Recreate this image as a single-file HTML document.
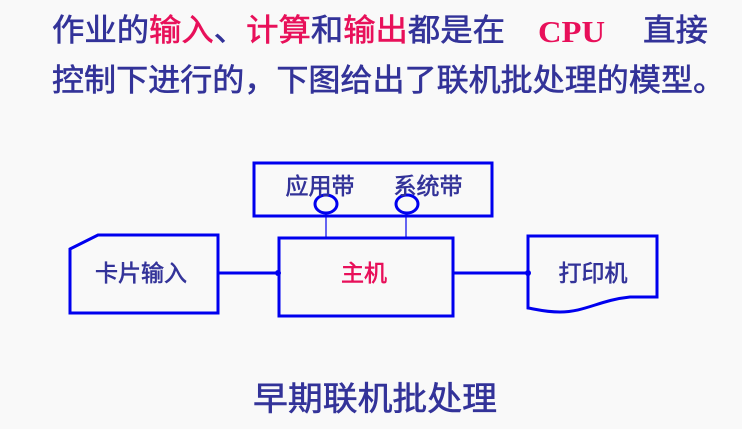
<!DOCTYPE html>
<html><head><meta charset="utf-8"><style>
html,body{margin:0;padding:0;background:#f9f9f9;}
svg{display:block;}
.t{font-family:"Liberation Sans","Noto Sans CJK SC",sans-serif;fill:#333399;stroke:#333399;stroke-width:0.6;}
.r{fill:#e8105a;stroke:#e8105a;}
</style></head><body>
<svg width="742" height="429" viewBox="0 0 742 429" xmlns="http://www.w3.org/2000/svg">
<rect width="742" height="429" fill="#f9f9f9"/>
<text class="t" x="52" y="41" font-size="31" textLength="453" lengthAdjust="spacingAndGlyphs">作业的<tspan class="r">输入</tspan>、<tspan class="r">计算</tspan>和<tspan class="r">输出</tspan>都是在</text>
<text x="538" y="42" font-size="31" font-weight="bold" fill="#e8105a" font-family="Liberation Serif,serif" textLength="67" lengthAdjust="spacingAndGlyphs">CPU</text>
<text class="t" x="643" y="41" font-size="31" textLength="65" lengthAdjust="spacingAndGlyphs">直接</text>
<text class="t" x="52" y="91" font-size="31" textLength="673" lengthAdjust="spacingAndGlyphs">控制下进行的，下图给出了联机批处理的模型。</text>

<g fill="none" stroke="#0000ee" stroke-width="3">
<rect x="254" y="163" width="238" height="53"/>
<rect x="279" y="238" width="174" height="78"/>
<path d="M70 249 L98 235 L218 235 L218 313 L70 313 Z"/>
<path d="M528 236 L657 236 L657 297 L630 297 C600 300 585 312 560 312 C545 312 535 309 528 308 Z"/>
<line x1="218" y1="273" x2="279" y2="273"/>
<line x1="453" y1="273" x2="528" y2="273"/>
<ellipse cx="326" cy="204" rx="11" ry="9" fill="#f9f9f9"/>
<ellipse cx="407" cy="204" rx="11" ry="9" fill="#f9f9f9"/>
</g>
<g stroke="#0000ee" stroke-width="1.2">
<line x1="326" y1="214" x2="326" y2="238"/>
<line x1="406" y1="214" x2="406" y2="238"/>
</g>
<circle cx="278" cy="273" r="3" fill="#0000ee"/>
<circle cx="528" cy="273" r="3" fill="#0000ee"/>

<text class="t" x="320" y="194" font-size="23" text-anchor="middle">应用带</text>
<text class="t" x="428" y="194" font-size="23" text-anchor="middle">系统带</text>
<text class="t" x="141" y="281" font-size="23" text-anchor="middle">卡片输入</text>
<text class="t r" x="364" y="281" font-size="23" text-anchor="middle">主机</text>
<text class="t" x="593" y="281" font-size="23" text-anchor="middle">打印机</text>
<text class="t" x="375" y="410" font-size="33" text-anchor="middle" textLength="244" lengthAdjust="spacingAndGlyphs">早期联机批处理</text>
</svg>
</body></html>
